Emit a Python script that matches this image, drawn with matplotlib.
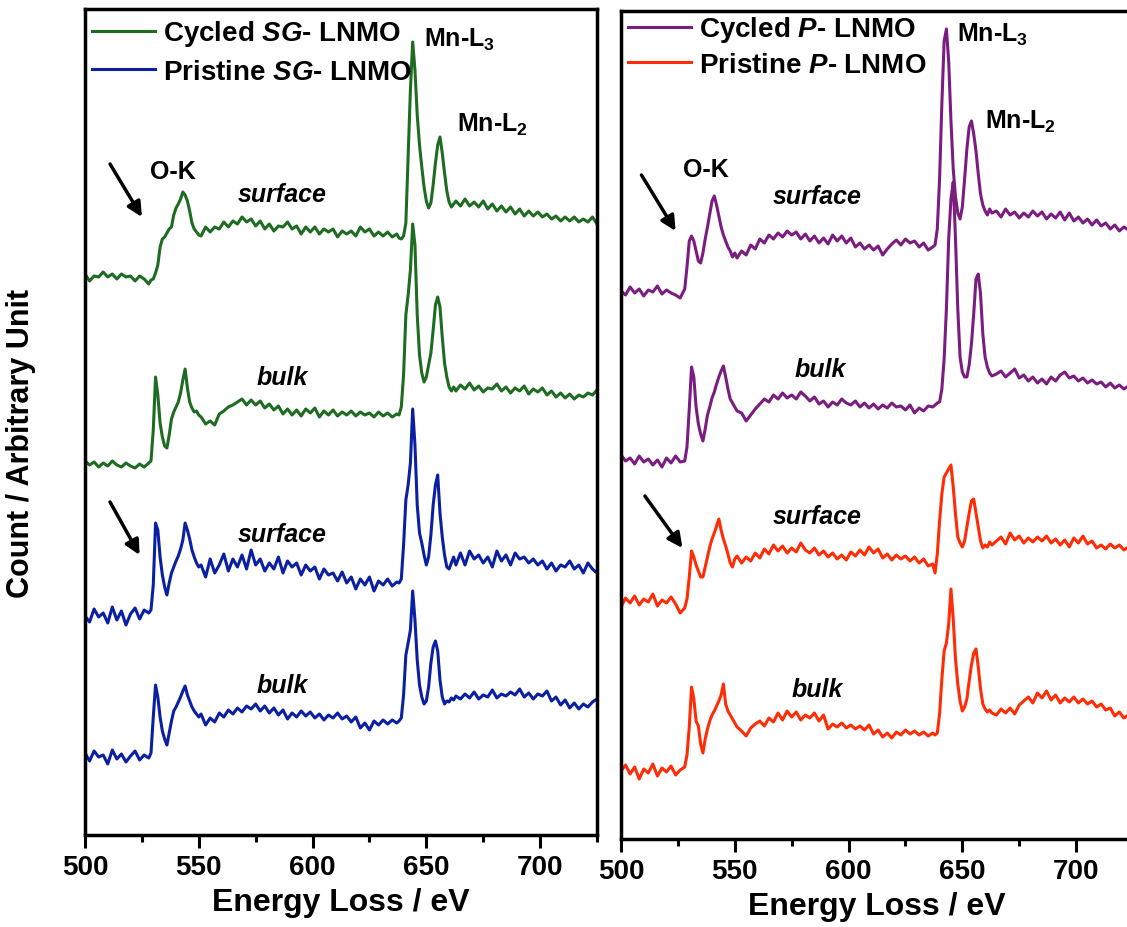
import numpy as np
import matplotlib
matplotlib.use("Agg")
from matplotlib import pyplot as plt
from matplotlib.ticker import MultipleLocator

plt.rcParams['font.family'] = ['Liberation Sans', 'DejaVu Sans']
plt.rcParams['font.weight'] = 'bold'
plt.rcParams['axes.labelweight'] = 'bold'
plt.rcParams['mathtext.fontset'] = 'custom'
plt.rcParams['mathtext.rm'] = 'Liberation Sans:bold'
plt.rcParams['mathtext.it'] = 'Liberation Sans:italic:bold'
plt.rcParams['mathtext.bf'] = 'Liberation Sans:bold'

# energy loss sampling (eV): coarse on the flat parts, 1 eV around the edges
energy = np.concatenate([np.arange(500, 529, 2), np.arange(529, 552, 1),
                         np.arange(553, 638, 2), np.arange(638, 664, 1),
                         np.arange(665, 726, 2)])

# intensities (arbitrary units, curves already stacked)
sg_cycled_surface = [
    561, 554, 559, 558, 563, 558, 561, 556, 561, 558, 559, 554, 559, 556, 551,
    555, 556, 562, 570, 588, 596, 598, 602, 606, 608, 620, 627, 631, 636, 643, 640, 634, 624, 612, 606, 603, 600, 599,
    608, 603, 608, 606, 613, 608, 614, 611, 618, 613, 616, 609, 614, 606, 611, 604, 609, 608, 613, 606, 609, 601,
    608, 603, 608, 601, 606, 603, 606, 598, 604, 601, 604, 599, 608, 603, 606, 599, 603, 599, 603, 598, 601,
    597, 596, 599, 612, 680, 745, 793, 765, 720, 690, 668, 648, 634, 627, 632, 650, 672, 690, 698, 682, 662, 644, 633, 628, 631, 634,
    629, 636, 629, 633, 628, 634, 626, 631, 624, 629, 623, 628, 621, 626, 619, 624, 619, 623, 618, 621, 616, 619, 614, 618, 614, 618,
    613, 616, 613, 618, 611]
sg_cycled_bulk = [
    374, 370, 373, 368, 372, 369, 374, 370, 368, 372, 369, 367, 371, 368, 372,
    374, 405, 458, 440, 412, 398, 389, 387, 400, 416, 423, 428, 433, 442, 455, 466, 447, 433, 427, 423, 424, 420, 418,
    411, 414, 410, 421, 424, 428, 430, 433, 436, 430, 435, 430, 434, 427, 431, 425, 429, 421, 426, 420,
    425, 419, 426, 422, 427, 418, 424, 420, 425, 419, 423, 420, 424, 419, 423, 420, 422, 418, 423, 419, 422, 418, 421,
    420, 428, 460, 520, 540, 565, 611, 590, 520, 480, 462, 453, 458, 470, 482, 505, 530, 538, 528, 498, 472, 458, 448, 444, 448, 444,
    450, 446, 452, 445, 449, 443, 447, 446, 451, 444, 448, 442, 447, 444, 449, 441, 446, 443, 447, 440, 444, 438, 442, 437, 441, 436,
    440, 438, 442, 440, 445]
sg_pristine_surface = [
    219, 213, 226, 218, 222, 212, 228, 215, 224, 210, 221, 227, 216, 225, 222,
    225, 250, 312, 305, 278, 260, 248, 240, 252, 262, 268, 274, 279, 286, 295, 312, 305, 296, 285, 278, 272, 268, 270,
    258, 276, 262, 270, 281, 264, 276, 268, 280, 266, 285, 270, 276, 264, 272, 266, 278, 262, 274, 268,
    272, 260, 270, 264, 268, 256, 266, 260, 262, 254, 263, 252, 258, 246, 256, 250, 258, 244, 254, 250, 256, 249, 253,
    252, 256, 290, 335, 350, 372, 426, 390, 330, 302, 292, 280, 270, 278, 300, 330, 350, 360, 322, 298, 280, 268, 266, 272, 278, 270,
    282, 270, 284, 276, 280, 272, 278, 268, 284, 274, 280, 270, 282, 276, 278, 272, 276, 270, 274, 266, 272, 264, 270, 268, 274, 266,
    270, 262, 272, 266, 262]
sg_pristine_bulk = [
    82, 74, 84, 78, 80, 71, 85, 76, 81, 73, 79, 84, 75, 80, 77,
    82, 118, 150, 138, 118, 104, 96, 90, 102, 114, 124, 128, 133, 138, 144, 149, 140, 134, 128, 124, 121, 118, 121,
    110, 117, 113, 122, 118, 125, 121, 127, 123, 129, 126, 131, 124, 129, 122, 127, 120, 125, 116, 122,
    118, 124, 119, 123, 117, 121, 115, 120, 117, 122, 116, 119, 113, 118, 107, 112, 105, 114, 110, 115, 111, 115, 112,
    114, 117, 140, 180, 192, 205, 244, 215, 175, 150, 138, 131, 134, 148, 172, 188, 194, 184, 155, 138, 131, 134, 133, 137, 135, 139,
    136, 141, 137, 143, 136, 140, 138, 145, 137, 141, 139, 143, 140, 146, 138, 142, 136, 141, 139, 144, 134, 138, 130, 135, 127, 132,
    126, 131, 128, 133, 136]

p_cycled_surface = [
    548, 544, 552, 546, 550, 543, 549, 547, 553, 545, 549, 546, 544, 541, 550,
    572, 598, 603, 598, 588, 578, 576, 586, 600, 612, 625, 638, 643, 634, 623, 612, 604, 598, 592, 588, 582, 586, 581,
    588, 584, 594, 590, 600, 596, 604, 600, 606, 602, 608, 604, 607, 600, 605, 598, 603, 596, 601, 595,
    604, 598, 603, 596, 601, 592, 596, 590, 594, 589, 593, 584, 590, 595, 599, 594, 600, 596, 598, 592, 596, 589, 592,
    594, 610, 660, 735, 798, 810, 778, 718, 670, 642, 626, 620, 632, 660, 690, 712, 718, 705, 688, 665, 645, 634, 628, 624, 630, 626,
    628, 622, 630, 624, 627, 621, 626, 622, 628, 623, 627, 620, 625, 621, 627, 619, 626, 618, 622, 616, 620, 614, 619, 613, 616, 610,
    614, 608, 612, 609, 612]
p_cycled_bulk = [
    384, 378, 381, 375, 383, 377, 380, 374, 379, 372, 381, 376, 383, 377, 378,
    392, 430, 472, 462, 432, 415, 405, 398, 410, 424, 432, 441, 447, 455, 462, 468, 473, 462, 450, 440, 436, 432, 428,
    426, 418, 424, 430, 435, 440, 437, 444, 440, 446, 441, 444, 440, 447, 443, 438, 442, 435, 438, 432,
    437, 434, 440, 436, 434, 438, 432, 436, 431, 435, 430, 434, 431, 436, 432, 433, 429, 434, 426, 431, 428, 433, 432,
    434, 436, 437, 450, 480, 530, 600, 640, 657, 600, 530, 482, 467, 462, 462, 474, 495, 525, 560, 565, 545, 505, 482, 472, 466, 463,
    465, 468, 462, 466, 470, 461, 464, 458, 462, 456, 460, 455, 462, 458, 464, 467, 461, 463, 458, 461, 456, 459, 455, 457, 452, 456,
    451, 454, 450, 453, 455]
p_pristine_surface = [
    232, 241, 236, 243, 234, 240, 237, 245, 233, 239, 236, 242, 235, 226, 231,
    240, 262, 288, 282, 274, 268, 262, 262, 272, 282, 292, 300, 306, 313, 320, 309, 300, 293, 285, 276, 272, 280, 283,
    276, 282, 278, 286, 281, 290, 285, 294, 288, 293, 286, 291, 287, 296, 289, 286, 291, 284, 288, 282,
    286, 280, 284, 279, 287, 283, 289, 284, 292, 286, 290, 281, 285, 279, 284, 280, 283, 278, 282, 276, 280, 273, 275,
    266, 285, 318, 345, 362, 366, 370, 374, 352, 325, 302, 296, 292, 298, 312, 326, 338, 340, 326, 312, 298, 291, 294, 292, 297, 294,
    298, 302, 295, 306, 299, 303, 296, 301, 297, 302, 298, 303, 296, 300, 294, 299, 292, 301, 296, 303, 295, 298, 291, 294, 290, 295,
    291, 294, 289, 292, 287]
p_pristine_bulk = [
    68, 74, 65, 72, 60, 70, 66, 75, 63, 71, 67, 73, 64, 69, 72,
    84, 112, 152, 140, 118, 113, 95, 86, 100, 110, 118, 124, 128, 133, 138, 144, 155, 135, 128, 124, 120, 116, 112,
    108, 103, 111, 115, 118, 113, 121, 117, 126, 119, 128, 122, 127, 119, 124, 121, 126, 118, 124, 110,
    115, 112, 116, 111, 114, 110, 113, 109, 114, 105, 109, 102, 106, 101, 107, 104, 109, 105, 108, 104, 107, 103, 106,
    104, 106, 125, 160, 188, 196, 215, 250, 220, 180, 155, 138, 128, 132, 140, 158, 174, 186, 190, 172, 150, 135, 130, 127, 129, 126,
    124, 130, 126, 131, 125, 134, 138, 142, 136, 146, 141, 148, 139, 144, 136, 141, 137, 142, 136, 140, 135, 138, 132, 135, 129, 131,
    123, 127, 121, 124, 120]

green = '#1e6b22'
blue = '#0b1fa3'
purple = '#7b1c80'
red = '#ff2c05'

fig = plt.figure(figsize=(11.27, 9.28), dpi=100)
axL = fig.add_axes([85/1127, 1-836/928, 512/1127, 826/928])
axR = fig.add_axes([621/1127, 1-840/928, 512/1127, 828/928])

lw = 2.2
axL.plot(energy, sg_cycled_surface, color=green, lw=lw, label='Cycled $\\mathit{SG}$- LNMO')
axL.plot(energy, sg_cycled_bulk, color=green, lw=lw)
axL.plot(energy, sg_pristine_surface, color=blue, lw=lw, label='Pristine $\\mathit{SG}$- LNMO')
axL.plot(energy, sg_pristine_bulk, color=blue, lw=lw)

axR.plot(energy, p_cycled_surface, color=purple, lw=lw, label='Cycled $\\mathit{P}$- LNMO')
axR.plot(energy, p_cycled_bulk, color=purple, lw=lw)
axR.plot(energy, p_pristine_surface, color=red, lw=lw, label='Pristine $\\mathit{P}$- LNMO')
axR.plot(energy, p_pristine_bulk, color=red, lw=lw)

for ax, top in ((axL, 826), (axR, 828)):
    ax.set_xlim(500, 725)
    ax.set_ylim(0, top)
    ax.set_yticks([])
    ax.xaxis.set_major_locator(MultipleLocator(50))
    ax.xaxis.set_minor_locator(MultipleLocator(25))
    ax.tick_params(axis='x', which='major', direction='out', length=9, width=2.2, labelsize=20, pad=5)
    ax.tick_params(axis='x', which='minor', direction='out', length=5, width=2.2)
    for s in ax.spines.values():
        s.set_linewidth(2.5)
    ax.set_xlabel('Energy Loss / eV', fontsize=23, labelpad=5)
    for lab in ax.get_xticklabels():
        lab.set_fontweight('bold')

axL.set_ylabel('Count / Arbitrary Unit', fontsize=22)
axL.yaxis.set_label_coords(-0.096, 0.475)

axL.legend(loc='upper left', bbox_to_anchor=(0.0137, 0.9885), frameon=False, fontsize=20,
           handlelength=2.27, handletextpad=0.29, labelspacing=0.37, borderpad=0, borderaxespad=0)
axR.legend(loc='upper left', bbox_to_anchor=(0.0137, 0.9958), frameon=False, fontsize=20,
           handlelength=2.27, handletextpad=0.29, labelspacing=0.26, borderpad=0, borderaxespad=0)

fs = 18
# left panel labels
axL.text(649.1, 796, 'Mn-L$_3$', fontsize=fs, va='center')
axL.text(663.6, 711, 'Mn-L$_2$', fontsize=fs, va='center')
axL.text(528.5, 664, 'O-K', fontsize=fs, va='center')
axL.text(586.8, 641, 'surface', fontsize=fs, style='italic', ha='center', va='center')
axL.text(586.8, 458, 'bulk', fontsize=fs, style='italic', ha='center', va='center')
axL.text(586.8, 301, 'surface', fontsize=fs, style='italic', ha='center', va='center')
axL.text(586.8, 150, 'bulk', fontsize=fs, style='italic', ha='center', va='center')
arrow = dict(arrowstyle='-|>', lw=2.5, color='black', mutation_scale=22, shrinkA=0, shrinkB=0)
axL.annotate('', xy=(525, 618), xytext=(511, 671), arrowprops=arrow)
axL.annotate('', xy=(524, 280), xytext=(511, 333), arrowprops=arrow)

# right panel labels
axR.text(647.8, 805, 'Mn-L$_3$', fontsize=fs, va='center')
axR.text(660.1, 718, 'Mn-L$_2$', fontsize=fs, va='center')
axR.text(527.2, 670, 'O-K', fontsize=fs, va='center')
axR.text(586.0, 643, 'surface', fontsize=fs, style='italic', ha='center', va='center')
axR.text(587.7, 470, 'bulk', fontsize=fs, style='italic', ha='center', va='center')
axR.text(586.0, 323, 'surface', fontsize=fs, style='italic', ha='center', va='center')
axR.text(586.4, 150, 'bulk', fontsize=fs, style='italic', ha='center', va='center')
axR.annotate('', xy=(524, 608), xytext=(509, 664), arrowprops=arrow)
axR.annotate('', xy=(527, 291), xytext=(510.5, 343), arrowprops=arrow)

plt.savefig('out.png', dpi=100)
